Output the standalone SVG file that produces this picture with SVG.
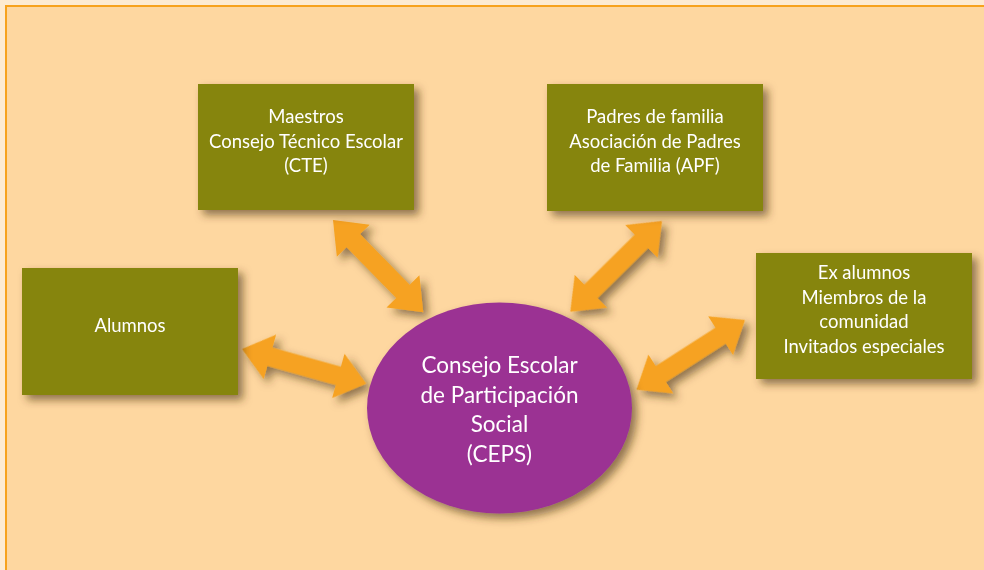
<svg xmlns="http://www.w3.org/2000/svg" width="984" height="570" viewBox="0 0 984 570">
<style>
.box{fill:#868508;}
.t{font-family:Lato,"Open Sans","Liberation Sans",sans-serif;fill:#FFFFFF;text-anchor:middle;}
.bt{font-size:18.5px;}
.et{font-size:22.5px;}
.arr{fill:#F6A221;}
</style>
<defs>
<filter id="sh" x="-20%" y="-20%" width="150%" height="150%">
<feDropShadow dx="5" dy="5" stdDeviation="4" flood-color="#4a3210" flood-opacity="0.6"/>
</filter>
<path id="arrow" d="M0,0 L29,-23 L29,-9.5 L100,-9.5 L100,-23 L129,0 L100,23 L100,9.5 L29,9.5 L29,23 Z"/>
</defs>
<rect x="0" y="0" width="984" height="570" fill="#FDEBD2"/>
<rect x="6" y="6" width="1000" height="600" fill="#FED7A0" stroke="#F7A21D" stroke-width="2"/>
<g id="connectors" class="arr" filter="url(#sh)">
<use href="#arrow" transform="translate(333,220) rotate(45.6)"/>
<use href="#arrow" transform="translate(662,221) rotate(135.3)"/>
<use href="#arrow" transform="translate(242,349) rotate(15.6)"/>
<use href="#arrow" transform="translate(745,320) rotate(147.3)"/>
</g>
<g id="ceps">
<ellipse cx="499.5" cy="408" rx="132.5" ry="105.5" fill="#9B3393" filter="url(#sh)"/>
<text class="t et" x="499.5" y="373">Consejo Escolar</text>
<text class="t et" x="499.5" y="402.5">de Participación</text>
<text class="t et" x="499.5" y="432">Social</text>
<text class="t et" x="499.5" y="461.5">(CEPS)</text>
</g>
<g id="cte">
<rect class="box" x="198" y="84" width="216" height="126" filter="url(#sh)"/>
<text class="t bt" x="306" y="123">Maestros</text>
<text class="t bt" x="306" y="147.5">Consejo Técnico Escolar</text>
<text class="t bt" x="306" y="172">(CTE)</text>
</g>
<g id="apf">
<rect class="box" x="547" y="84" width="216" height="127" filter="url(#sh)"/>
<text class="t bt" x="655" y="123">Padres de familia</text>
<text class="t bt" x="655" y="147.5">Asociación de Padres</text>
<text class="t bt" x="655" y="172">de Familia (APF)</text>
</g>
<g id="alumnos">
<rect class="box" x="22" y="268" width="216" height="127" filter="url(#sh)"/>
<text class="t bt" x="130" y="332">Alumnos</text>
</g>
<g id="exalumnos">
<rect class="box" x="756" y="253" width="216" height="126" filter="url(#sh)"/>
<text class="t bt" x="864" y="279">Ex alumnos</text>
<text class="t bt" x="864" y="303.5">Miembros de la</text>
<text class="t bt" x="864" y="328">comunidad</text>
<text class="t bt" x="864" y="352.5">Invitados especiales</text>
</g>
</svg>
